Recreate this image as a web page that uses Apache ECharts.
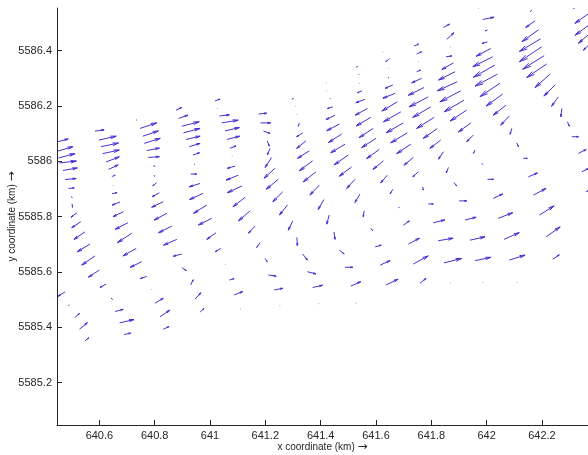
<!DOCTYPE html>
<html>
<head>
<meta charset="utf-8">
<script src="https://cdn.jsdelivr.net/npm/echarts@6/dist/echarts.min.js"></script>
<style>
  html, body { margin: 0; padding: 0; background: #fff; }
  #chart { width: 588px; height: 455px; }
</style>
</head>
<body>
<div id="chart"></div>
<script>
// quiver field, km; one line per column of grid points
const arrowX = [
  640.447,640.449,640.452,640.455,640.468,640.476,640.488,640.499,640.501,640.519,640.533,640.548,640.566,640.584,640.600,640.624,640.642,640.476,640.488,640.512,640.528,640.548,
  640.584,640.598,640.606,640.612,640.624,640.633,640.645,640.651,640.646,640.675,640.687,640.703,640.717,640.733,640.753,640.771,640.789,640.657,640.673,640.689,640.801,640.819,640.831,
  640.733,640.747,640.757,640.762,640.771,640.777,640.798,640.798,640.807,640.817,640.831,640.844,640.862,640.880,640.898,640.898,640.930,640.946,640.964,
  640.877,640.886,640.898,640.904,640.913,640.925,640.938,640.942,640.930,640.964,640.974,640.988,641.006,641.022,641.039,641.054,641.070,641.087,641.109,
  641.018,641.027,641.034,641.042,641.054,641.061,641.072,641.079,641.091,641.102,641.115,641.127,641.145,641.163,641.181,641.199,641.211,641.232,641.251,
  641.175,641.183,641.193,641.207,641.217,641.223,641.235,641.247,641.263,641.280,641.299,641.314,641.335,641.352,641.371,641.392,
  641.296,641.307,641.314,641.323,641.335,641.347,641.359,641.371,641.383,641.395,641.412,641.431,641.448,641.468,641.488,641.509,641.528,
  641.419,641.422,641.434,641.444,641.452,641.468,641.476,641.488,641.500,641.512,641.524,641.542,641.557,641.581,641.597,641.615,641.636,
  641.528,641.536,641.540,641.549,641.560,641.569,641.581,641.590,641.600,641.612,641.627,641.641,641.661,641.681,641.699,
  641.624,641.648,641.645,641.645,641.661,641.669,641.677,641.690,641.699,641.713,641.726,641.735,641.753,641.769,641.789,641.807,641.717,641.735,641.759,
  641.738,641.747,641.753,641.747,641.765,641.774,641.789,641.798,641.810,641.822,641.834,641.844,641.862,641.882,641.901,641.922,641.940,641.958,641.986,641.825,641.846,641.868,
  641.844,641.856,641.868,641.853,641.880,641.886,641.894,641.906,641.918,641.928,641.943,641.952,641.958,641.982,642.003,642.024,642.042,642.063,642.082,642.109,
  641.970,641.986,642.003,642.003,642.015,642.022,642.030,642.039,642.048,642.058,642.070,642.082,642.091,642.109,642.133,642.151,642.169,642.191,642.215,642.239,
  642.157,642.175,642.188,642.195,642.199,642.208,642.217,642.229,642.247,642.259,642.272,642.292,642.308,642.332,642.344,642.359,
  642.313,642.370,642.374,642.374,642.374
];
const arrowY = [
  5586.070,5586.037,5586.012,5585.994,5585.967,5585.934,5585.902,5585.873,5585.847,5585.814,5585.782,5585.745,5585.701,5585.658,5585.607,5585.556,5585.506,5585.528,5585.478,5585.436,5585.393,5585.351,
  5586.109,5586.077,5586.053,5586.028,5585.998,5585.971,5585.945,5585.912,5585.883,5585.853,5585.818,5585.778,5585.740,5585.685,5585.637,5585.584,5585.537,5585.457,5585.416,5585.374,5585.487,5585.438,5585.393,
  5586.149,5586.119,5586.091,5586.065,5586.039,5586.014,5585.986,5585.950,5585.923,5585.886,5585.854,5585.812,5585.766,5585.718,5585.665,5585.616,5585.553,5585.502,5585.455,
  5586.185,5586.155,5586.127,5586.103,5586.079,5586.053,5586.023,5585.990,5585.954,5585.920,5585.884,5585.842,5585.794,5585.742,5585.685,5585.629,5585.571,5585.517,5585.465,
  5586.219,5586.191,5586.164,5586.139,5586.110,5586.079,5586.047,5586.016,5585.983,5585.950,5585.911,5585.870,5585.821,5585.766,5585.706,5585.649,5585.589,5585.535,5585.477,
  5586.171,5586.139,5586.110,5586.074,5586.047,5586.014,5585.975,5585.935,5585.890,5585.842,5585.785,5585.725,5585.665,5585.601,5585.544,5585.484,
  5586.225,5586.200,5586.171,5586.139,5586.103,5586.074,5586.038,5586.002,5585.962,5585.914,5585.862,5585.806,5585.745,5585.679,5585.617,5585.549,5585.487,
  5586.284,5586.255,5586.228,5586.197,5586.167,5586.135,5586.099,5586.062,5586.023,5585.980,5585.935,5585.882,5585.821,5585.758,5585.691,5585.625,5585.553,
  5586.340,5586.312,5586.282,5586.255,5586.224,5586.191,5586.159,5586.119,5586.083,5586.043,5586.002,5585.950,5585.899,5585.834,5585.769,
  5586.396,5586.372,5586.336,5586.304,5586.276,5586.246,5586.215,5586.179,5586.139,5586.103,5586.062,5586.014,5585.962,5585.908,5585.846,5585.778,5585.701,5585.629,5585.559,
  5586.417,5586.388,5586.360,5586.324,5586.300,5586.267,5586.233,5586.197,5586.159,5586.119,5586.077,5586.035,5585.978,5585.923,5585.857,5585.788,5585.715,5585.641,5585.561,5585.713,5585.633,5585.559,
  5586.484,5586.441,5586.412,5586.378,5586.356,5586.324,5586.288,5586.255,5586.221,5586.185,5586.139,5586.095,5586.041,5585.993,5585.935,5585.866,5585.794,5585.718,5585.643,5585.561,
  5586.553,5586.513,5586.475,5586.432,5586.408,5586.378,5586.348,5586.315,5586.282,5586.243,5586.203,5586.164,5586.119,5586.067,5586.011,5585.944,5585.878,5585.806,5585.727,5585.646,
  5586.541,5586.508,5586.476,5586.443,5586.414,5586.382,5586.352,5586.315,5586.276,5586.233,5586.191,5586.143,5586.089,5586.029,5585.962,5585.890,
  5586.553,5586.535,5586.496,5586.463,5586.426
];
const arrowU = [
  0.040,0.055,0.060,0.062,0.052,0.040,0.021,0.002,0.002,-0.022,-0.033,-0.040,-0.046,-0.048,-0.040,-0.022,0.005,-0.026,0.003,0.016,0.029,0.014,
  0.033,0.063,0.063,0.060,0.048,0.035,0.012,0.001,0.018,-0.029,-0.038,-0.046,-0.052,-0.048,-0.042,-0.023,0.001,0.029,0.052,0.024,0.030,0.036,0.021,
  0.002,0.060,0.056,0.058,0.046,0.040,0.000,0.001,-0.014,-0.027,-0.042,-0.046,-0.048,-0.048,-0.031,0.016,0.009,0.021,0.014,
  0.021,0.034,0.063,0.060,0.051,0.039,0.024,0.002,0.022,-0.039,-0.048,-0.048,-0.048,-0.034,-0.021,0.001,0.017,0.031,0.001,
  0.018,0.001,0.036,0.060,0.052,0.046,0.022,0.001,-0.028,-0.044,-0.052,-0.044,-0.042,-0.024,-0.012,0.008,0.028,0.031,0.001,
  0.030,0.036,0.024,0.007,-0.010,-0.024,-0.040,-0.044,-0.036,-0.029,-0.016,0.002,0.017,0.031,0.036,0.001,
  0.005,0.001,0.000,-0.004,-0.022,-0.034,-0.043,-0.048,-0.046,-0.034,-0.021,-0.009,0.004,0.017,0.028,0.036,0.001,
  0.001,0.001,0.002,-0.020,-0.033,-0.046,-0.048,-0.052,-0.052,-0.045,-0.030,-0.018,-0.003,0.007,0.022,0.036,0.044,
  0.005,0.002,0.001,-0.016,-0.033,-0.044,-0.053,-0.051,-0.052,-0.046,-0.038,-0.024,-0.010,0.003,0.022,
  0.001,-0.012,0.001,0.001,-0.028,-0.044,-0.056,-0.063,-0.063,-0.060,-0.051,-0.034,-0.020,0.002,0.018,0.042,0.040,0.054,0.022,
  0.016,0.018,0.001,0.014,-0.036,-0.057,-0.069,-0.065,-0.063,-0.051,-0.039,-0.018,-0.008,0.010,0.027,0.040,0.054,0.057,0.001,0.054,0.064,0.001,
  0.022,0.026,0.001,0.021,-0.042,-0.060,-0.072,-0.075,-0.072,-0.060,-0.045,-0.024,-0.006,0.003,0.022,0.034,0.052,0.055,0.057,0.001,
  0.001,0.041,-0.008,-0.020,-0.053,-0.072,-0.078,-0.081,-0.072,-0.060,-0.046,-0.031,-0.006,0.006,0.014,0.033,0.046,0.053,0.051,0.024,
  0.005,-0.034,-0.060,-0.077,-0.081,-0.078,-0.072,-0.054,-0.040,-0.024,-0.004,0.007,0.024,0.028,0.023,0.007,
  0.004,-0.051,-0.054,-0.042,-0.024
];
const arrowV = [
  0.011,0.016,0.016,0.007,0.009,0.004,0.002,-0.004,-0.013,-0.016,-0.022,-0.027,-0.028,-0.033,-0.026,-0.012,-0.005,-0.016,0.002,0.014,0.024,0.011,
  0.005,0.014,0.013,0.013,0.018,0.016,0.005,-0.001,0.004,-0.011,-0.018,-0.024,-0.034,-0.027,-0.020,-0.008,-0.001,0.008,0.012,0.005,0.018,0.024,0.010,
  0.001,0.020,0.019,0.018,0.009,0.003,-0.005,-0.004,-0.012,-0.014,-0.020,-0.024,-0.024,-0.021,-0.008,-0.011,0.019,0.023,0.013,
  0.010,0.012,0.016,0.016,0.012,0.012,0.008,-0.001,0.000,-0.012,-0.022,-0.030,-0.024,-0.024,-0.012,-0.001,0.005,0.012,0.001,
  0.006,0.001,0.004,0.010,0.012,0.012,0.009,0.001,-0.008,-0.018,-0.024,-0.034,-0.036,-0.026,-0.017,-0.012,-0.004,0.006,0.001,
  0.003,0.000,-0.009,-0.019,-0.024,-0.036,-0.036,-0.036,-0.036,-0.036,-0.034,-0.031,-0.022,-0.008,0.008,0.001,
  0.002,0.000,-0.001,-0.012,-0.014,-0.027,-0.027,-0.036,-0.036,-0.036,-0.036,-0.033,-0.027,-0.014,0.000,0.016,0.001,
  0.000,0.000,-0.002,-0.006,-0.016,-0.024,-0.031,-0.031,-0.036,-0.034,-0.033,-0.031,-0.022,-0.009,0.006,0.016,0.021,
  0.003,0.002,0.000,-0.007,-0.012,-0.024,-0.031,-0.033,-0.033,-0.033,-0.031,-0.028,-0.017,-0.001,0.016,
  -0.001,-0.012,0.000,-0.003,-0.012,-0.018,-0.033,-0.036,-0.036,-0.036,-0.034,-0.028,-0.018,-0.012,0.000,0.010,0.021,0.029,0.018,
  0.007,0.008,0.000,0.006,-0.016,-0.028,-0.036,-0.038,-0.040,-0.036,-0.030,-0.027,-0.020,-0.012,0.000,0.010,0.012,0.012,0.001,0.009,0.016,0.001,
  0.012,0.024,0.001,0.003,-0.024,-0.030,-0.033,-0.040,-0.042,-0.039,-0.033,-0.024,-0.012,-0.004,0.000,0.016,0.020,0.024,0.018,0.001,
  0.000,0.008,-0.003,-0.006,-0.028,-0.036,-0.044,-0.043,-0.048,-0.043,-0.036,-0.033,-0.021,-0.014,0.000,0.014,0.024,0.033,0.036,0.016,
  0.004,-0.024,-0.043,-0.046,-0.054,-0.049,-0.049,-0.048,-0.040,-0.034,-0.030,-0.016,0.000,0.014,0.012,0.004,
  0.001,-0.036,-0.040,-0.036,-0.024
];

const xTicks = [640.6, 640.8, 641, 641.2, 641.4, 641.6, 641.8, 642, 642.2];
const yTicks = [5585.2, 5585.4, 5585.6, 5585.8, 5586, 5586.2, 5586.4];

const chart = echarts.init(document.getElementById('chart'));

const arrowColor = '#4a2fd2';
const fmt = (v) => String(+Number(v).toFixed(1));

// matlab quiver style heads
function renderArrow(params, api) {
  const x = api.value(0), y = api.value(1), u = api.value(2), v = api.value(3);
  const p0 = api.coord([x, y]);
  const p1 = api.coord([x + u, y + v]);
  const dx = p1[0] - p0[0], dy = p1[1] - p0[1];
  const a = 0.33, b = 0.23;
  const h1 = [p1[0] - a * (dx + b * dy), p1[1] - a * (dy - b * dx)];
  const h2 = [p1[0] - a * (dx - b * dy), p1[1] - a * (dy + b * dx)];
  const style = { stroke: arrowColor, lineWidth: 1, fill: null };
  return {
    type: 'group',
    children: [
      { type: 'polyline', shape: { points: [p0, p1] }, style: style },
      { type: 'polyline', shape: { points: [h1, p1, h2] }, style: style }
    ]
  };
}

const axisText = { color: '#262626', fontSize: 11, fontFamily: 'Liberation Sans, Arial, sans-serif' };
const nameText = {
  color: '#262626', fontSize: 10, fontFamily: 'Liberation Sans, Arial, sans-serif',
  rich: { arr: { fontFamily: 'DejaVu Sans', fontSize: 12, color: '#262626' } }
};

chart.setOption({
  animation: false,
  grid: { left: 57, right: 0, top: 8, bottom: 30, containLabel: false, outerBoundsMode: 'none' },
  xAxis: {
    type: 'value',
    min: 640.4467,
    max: 642.3665,
    name: 'x coordinate (km) {arr|\u2192}',
    nameLocation: 'middle',
    nameGap: 16,
    nameMoveOverlap: false,
    nameTextStyle: nameText,
    axisLine: { show: true, onZero: false, lineStyle: { color: '#262626', width: 1 } },
    axisTick: { show: true, inside: true, length: 5, customValues: xTicks, lineStyle: { color: '#262626' } },
    axisLabel: Object.assign({ customValues: xTicks, margin: 5, formatter: fmt }, axisText),
    splitLine: { show: false }
  },
  yAxis: {
    type: 'value',
    min: 5585.0468,
    max: 5586.5544,
    name: 'y coordinate (km) {arr|\u2192}',
    nameLocation: 'middle',
    nameGap: 39,
    nameRotate: 90,
    nameMoveOverlap: false,
    nameTextStyle: nameText,
    axisLine: { show: true, onZero: false, lineStyle: { color: '#262626', width: 1 } },
    axisTick: { show: true, inside: true, length: 5, customValues: yTicks, lineStyle: { color: '#262626' } },
    axisLabel: Object.assign({ customValues: yTicks, margin: 5, formatter: fmt }, axisText),
    splitLine: { show: false }
  },
  series: [{
    type: 'custom',
    renderItem: renderArrow,
    clip: true,
    data: arrowX.map((x, i) => [x, arrowY[i], arrowU[i], arrowV[i]]),
    encode: { x: 0, y: 1 }
  }]
});
</script>
</body>
</html>
